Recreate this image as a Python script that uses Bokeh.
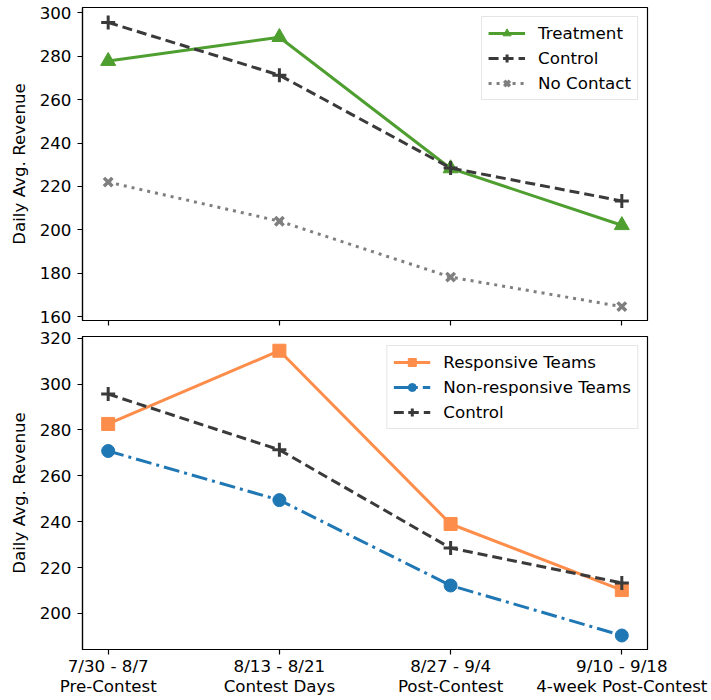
from bokeh.plotting import figure
from bokeh.models import Range1d, FixedTicker, SingleIntervalTicker, Legend, LegendItem
from bokeh.layouts import column
from bokeh.embed import file_html
from bokeh.resources import INLINE

periods = ["7/30 - 8/7\nPre-Contest", "8/13 - 8/21\nContest Days",
           "8/27 - 9/4\nPost-Contest", "9/10 - 9/18\n4-week Post-Contest"]
treatment = [277.8, 288.8, 228.3, 202.1]
control = [295.6, 271.3, 228.5, 213.3]
no_contact = [222.0, 204.0, 178.2, 164.6]
responsive = [282.6, 314.5, 239.0, 210.2]
non_responsive = [270.8, 249.4, 212.2, 190.4]

xs = list(range(len(periods)))
FONT = "DejaVu Sans"
FS = "16.7px"

GREEN = "#4f9e30"
DARK = "#3a3a3a"
GRAY = "#7f7f7f"
ORANGE = "#fd8d4a"
BLUE = "#1f77b4"


def make_fig(yr, frame_h, show_labels, min_top, min_bottom):
    p = figure(output_backend="svg", toolbar_location=None,
               frame_width=565, frame_height=frame_h,
               x_range=Range1d(-0.15, 3.15), y_range=Range1d(*yr),
               min_border_left=82, min_border_right=62,
               min_border_top=min_top, min_border_bottom=min_bottom)
    p.xgrid.visible = False
    p.ygrid.visible = False
    p.outline_line_color = "black"
    p.outline_line_width = 1.2
    for ax in (p.xaxis[0], p.yaxis[0]):
        ax.axis_line_color = "black"
        ax.axis_line_width = 1.2
        ax.major_tick_out = 5
        ax.major_tick_in = 0
        ax.major_tick_line_width = 1.2
        ax.minor_tick_line_color = None
        ax.major_label_text_font = FONT
        ax.major_label_text_font_size = FS
        ax.major_label_text_color = "black"
        ax.axis_label_text_font = FONT
        ax.axis_label_text_font_size = FS
        ax.axis_label_text_font_style = "normal"
        ax.axis_label_text_color = "black"
    p.xaxis.ticker = FixedTicker(ticks=xs)
    if show_labels:
        p.xaxis.major_label_overrides = {i: lab for i, lab in enumerate(periods)}
        p.xaxis.major_label_standoff = 1
        p.xaxis.major_label_text_line_height = 1.0
    else:
        p.xaxis.major_label_overrides = {i: "" for i in xs}
        p.xaxis.major_label_standoff = 0
    p.yaxis.ticker = SingleIntervalTicker(interval=20)
    p.yaxis.axis_label = "Daily Avg. Revenue"
    p.yaxis.major_label_standoff = 6
    p.yaxis.axis_label_standoff = 8
    return p


def series(p, y, color, dash, marker, msize, mlw=1.0):
    l = p.line(xs, y, line_color=color, line_width=3, line_dash=dash)
    m = p.scatter(xs, y, marker=marker, size=msize, line_color=color,
                  line_width=mlw, fill_color=color)
    return [l, m]


def style_legend(leg):
    leg.location = "top_right"
    leg.margin = 9
    leg.padding = 6
    leg.spacing = 5
    leg.label_height = 20
    leg.glyph_height = 20
    leg.glyph_width = 37
    leg.label_standoff = 13
    leg.label_text_font = FONT
    leg.label_text_font_size = FS
    leg.label_text_color = "black"
    leg.border_line_color = "#cccccc"
    leg.border_line_width = 1
    leg.background_fill_color = "white"
    leg.background_fill_alpha = 0.8


p1 = make_fig((158.2, 302.5), 313, False, 7, 8)
r_t = series(p1, treatment, GREEN, "solid", "triangle", 15)
r_c = series(p1, control, DARK, "10 5", "cross", 14, 3)
r_n = series(p1, no_contact, GRAY, "3 5", "x", 12, 3.5)
leg1 = Legend(items=[LegendItem(label="Treatment", renderers=r_t),
                     LegendItem(label="Control", renderers=r_c),
                     LegendItem(label="No Contact", renderers=r_n)])
style_legend(leg1)
p1.add_layout(leg1)

p2 = make_fig((184.3, 320.7), 313, True, 8, 48)
r_r = series(p2, responsive, ORANGE, "solid", "square", 13)
r_nr = series(p2, non_responsive, BLUE, "16 5 3 5", "circle", 13)
r_c2 = series(p2, control, DARK, "10 5", "cross", 14, 3)
leg2 = Legend(items=[LegendItem(label="Responsive Teams", renderers=r_r),
                     LegendItem(label="Non-responsive Teams", renderers=r_nr),
                     LegendItem(label="Control", renderers=r_c2)])
style_legend(leg2)
p2.add_layout(leg2)

layout = column(p1, p2, spacing=0)
open("out.html", "w").write(file_html(layout, INLINE))
